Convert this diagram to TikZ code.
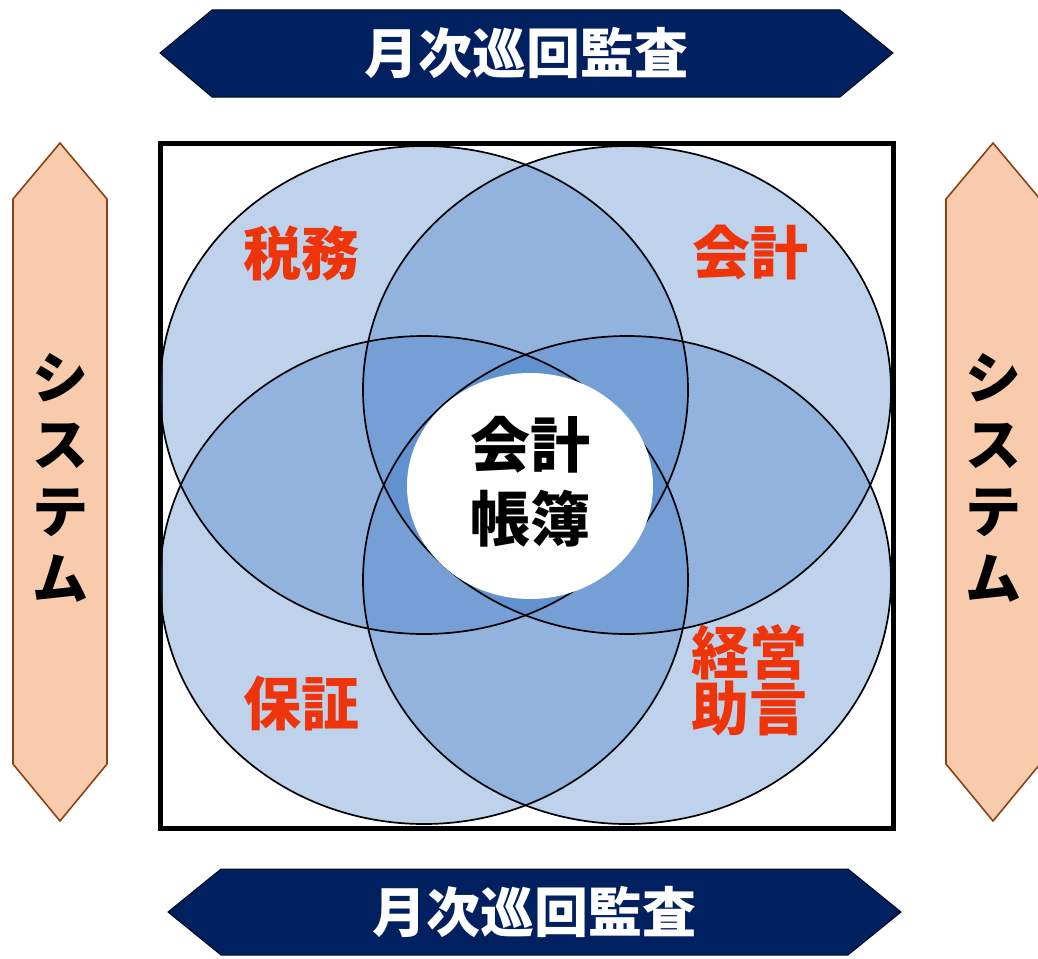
\documentclass[tikz,border=0pt]{standalone}
\usepackage{fontspec}
\newfontfamily\jp{Noto Sans CJK JP}
\definecolor{navy}{RGB}{0,32,96}
\definecolor{peach}{RGB}{248,203,173}
\definecolor{brownline}{RGB}{140,65,20}
\definecolor{vblue}{RGB}{57,117,195}
\definecolor{lblred}{RGB}{238,52,8}
\begin{document}
\begin{tikzpicture}[x=1pt,y=-1pt,
  banner/.style={fill=navy,draw=black!70!navy,line width=1pt},
  pillar/.style={fill=peach,draw=brownline,line width=1.6pt},
  venn/.style={fill=vblue,fill opacity=0.33,draw=none},
  vennline/.style={draw=black,line width=1.7pt},
  titletxt/.style={text=white,font=\jp\bfseries\fontsize{54}{60}\selectfont},
  systxt/.style={text=black,font=\jp\bfseries\fontsize{56}{67}\selectfont,align=center},
  redtxt/.style={text=lblred,font=\jp\bfseries\fontsize{58}{56}\selectfont,align=center},
  centertxt/.style={text=black,font=\jp\bfseries\fontsize{60}{74}\selectfont,align=center}]
\useasboundingbox (0,0) rectangle (1038,958);
% banners
\draw[banner] (160,53) -- (212,10) -- (840,10) -- (893,53) -- (840,97) -- (212,97) -- cycle;
\draw[banner] (168,912) -- (221,869) -- (848,869) -- (901,912) -- (848,955) -- (221,955) -- cycle;
\node[titletxt] (ttop) at (526,53) {月次巡回監査};
\node[titletxt] (tbot) at (534,912) {月次巡回監査};
% pillars
\draw[pillar] (60,143) -- (107,199) -- (107,764) -- (60,821) -- (13,764) -- (13,199) -- cycle;
\draw[pillar] (993,143) -- (1040,199) -- (1040,764) -- (993,821) -- (946,764) -- (946,199) -- cycle;
\node[systxt] (sysl) at (60,478) {シ\\ス\\テ\\ム};
\node[systxt] (sysr) at (993,478) {シ\\ス\\テ\\ム};
% frame
\draw[line width=5pt] (160,143) rectangle (893,828);
% venn fills
\fill[venn] (424,390) ellipse [x radius=264, y radius=244];
\fill[venn] (627,390) ellipse [x radius=264, y radius=244];
\fill[venn] (424,580) ellipse [x radius=264, y radius=244];
\fill[venn] (627,580) ellipse [x radius=264, y radius=244];
\draw[vennline] (424,390) ellipse [x radius=264, y radius=244];
\draw[vennline] (627,390) ellipse [x radius=264, y radius=244];
\draw[vennline] (424,580) ellipse [x radius=264, y radius=244];
\draw[vennline] (627,580) ellipse [x radius=264, y radius=244];
% centre
\fill[white] (530,486) ellipse [x radius=123, y radius=113];
\node[centertxt] (ctr) at (530,482) {会計\\帳簿};
% labels
\node[redtxt] (zeimu) at (301,253) {税務};
\node[redtxt] (kaikei) at (750,253) {会計};
\node[redtxt] (hosho) at (301,704) {保証};
\node[redtxt] (keiei) at (749,680) {経営\\助言};
\end{tikzpicture}
\end{document}
